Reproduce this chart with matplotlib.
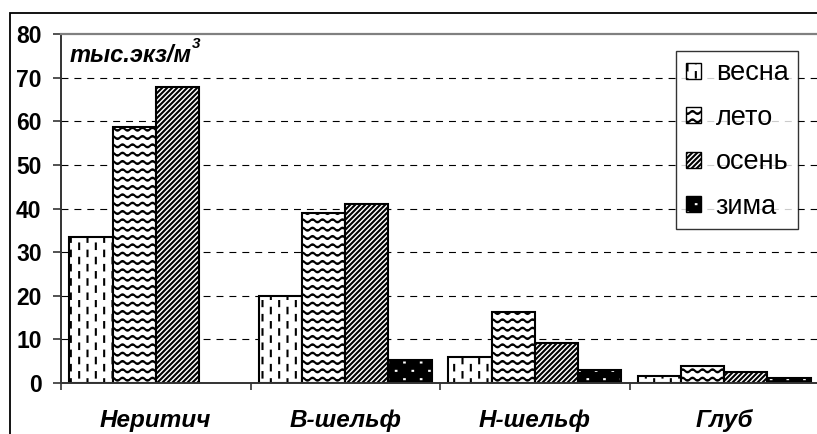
import numpy as np
import matplotlib
matplotlib.use("Agg")
import matplotlib.pyplot as plt
import matplotlib.hatch as mhatch
from matplotlib.path import Path
from matplotlib.patches import Patch, Rectangle

# ---------------- data ----------------
categories = ["Неритич", "В-шельф", "Н-шельф", "Глуб"]
seasons = ["весна", "лето", "осень", "зима"]
vesna = [33.4, 19.9, 6.0, 1.6]
leto = [58.6, 39.0, 16.2, 3.9]
osen = [67.9, 41.0, 9.1, 2.5]
zima = [0.0, 5.3, 3.0, 1.2]
yticks = [0, 10, 20, 30, 40, 50, 60, 70, 80]
unit_label = "тыс.экз/м"

# ---------------- custom hatches ----------------
mhatch._validate_hatch_pattern = lambda h: None


class _SegHatch(mhatch.HatchPatternBase):
    char = None

    def __init__(self, hatch, density):
        self.segs = self.build() if (hatch and self.char in hatch) else []
        self.num_vertices = sum(len(s) for s in self.segs)

    def build(self):
        return []

    def set_vertices_and_codes(self, vertices, codes):
        i = 0
        for s in self.segs:
            n = len(s)
            vertices[i:i + n] = s
            codes[i] = Path.MOVETO
            codes[i + 1:i + n] = Path.LINETO
            i += n


class DashHatch(_SegHatch):  # vertical staggered dashes (spring)
    char = "1"

    def build(self):
        segs = []
        ncol, nrow, dl = 12, 7, 0.055
        for i in range(ncol):
            x = (i + 0.5) / ncol
            off = 0.01 if i % 2 == 0 else 0.01 + 0.5 / nrow
            for k in range(nrow):
                y0 = k / nrow + off
                segs.append(np.array([[x, y0], [x, min(y0 + dl, 0.998)]]))
        return segs


class WaveHatch(_SegHatch):  # wavy lines (summer)
    char = "2"

    def build(self):
        segs = []
        nrow, nper, amp = 12, 10, 0.015
        t = np.linspace(0, 1, nper * 12 + 1)
        for j in range(nrow):
            y = (j + 0.5) / nrow + amp * np.sin(2 * np.pi * nper * t)
            segs.append(np.column_stack([t, y]))
        return segs


class DiagHatch(_SegHatch):  # dense diagonal (autumn)
    char = "3"

    def build(self):
        segs = []
        n = 20
        for i in range(-n, n + 1):
            x = i / n
            segs.append(np.array([[x, 0.0], [x + 1.0, 1.0]]))
        return segs


class DotHatch(_SegHatch):  # staggered dots (winter)
    char = "4"

    def build(self):
        segs = []
        ncol, nrow, d = 6, 12, 0.006
        for j in range(nrow):
            y = (j + 0.5) / nrow
            off = 0.0 if j % 2 == 0 else 0.5 / ncol
            for i in range(ncol):
                x = (i + 0.25) / ncol + off
                segs.append(np.array([[x, y], [x + d, y]]))
        return segs


mhatch._hatch_types.extend([DashHatch, WaveHatch, DiagHatch, DotHatch])

# ---------------- style ----------------
plt.rcParams["font.family"] = ["Liberation Sans", "DejaVu Sans"]
plt.rcParams["hatch.linewidth"] = 1.5
plt.rcParams["lines.scale_dashes"] = False

W, H = 817, 434
fig = plt.figure(figsize=(W / 100, H / 100), dpi=100)

# outer chart frame
fig.patches.append(Rectangle((10 / W, -0.05), 1.2, 1 - 13 / H + 0.05,
                             transform=fig.transFigure, fill=False,
                             edgecolor="black", linewidth=1.3, zorder=0))

ax = fig.add_axes([61 / W, 1 - 383 / H, 758 / W, (383 - 34) / H])
ax.set_facecolor("none")

x = np.arange(len(categories))
bw = 0.228
offs = (np.arange(4) - 1.5) * bw

ax.bar(x + offs[0], vesna, bw, facecolor="white", edgecolor="black",
       linewidth=1.5, hatch="1", zorder=3)
ax.bar(x + offs[1], leto, bw, facecolor="white", edgecolor="black",
       linewidth=1.5, hatch="2", zorder=3)
ax.bar(x + offs[2], osen, bw, facecolor="white", edgecolor="black",
       linewidth=1.5, hatch="3", zorder=3)
zv = np.array(zima)
mask = zv > 0
ax.bar(x[mask] + offs[3], zv[mask], bw, facecolor="black", edgecolor="white",
       linewidth=0, hatch="4", zorder=3)
ax.bar(x[mask] + offs[3], zv[mask], bw, fill=False, edgecolor="black",
       linewidth=1.5, zorder=4)

ax.set_xlim(-0.5, len(categories) - 0.5)
ax.set_ylim(0, 80)
ax.set_yticks(yticks)
ax.set_yticklabels([str(v) for v in yticks], fontsize=16.5, fontweight="bold")
ax.tick_params(axis="y", direction="out", length=6, width=1.2, pad=8,
               color="#333333")

ax.set_xticks(np.arange(len(categories) + 1) - 0.5)
ax.set_xticklabels([])
ax.tick_params(axis="x", which="major", direction="out", length=5,
               width=1.2, color="#333333")
ax.set_xticks(x, minor=True)
ax.set_xticklabels(categories, minor=True, fontsize=17.5, fontweight="bold",
                   fontstyle="italic")
ax.tick_params(axis="x", which="minor", length=0, pad=19)

for v in yticks[1:-1]:
    ax.axhline(v, color="black", linewidth=0.8, linestyle=(0, (5.0, 4.3)),
               zorder=1)

ax.spines["top"].set_color("#808080")
ax.spines["top"].set_linewidth(1.6)
ax.spines["right"].set_visible(False)
ax.spines["left"].set_color("#333333")
ax.spines["left"].set_linewidth(1.4)
ax.spines["bottom"].set_color("#333333")
ax.spines["bottom"].set_linewidth(1.4)
ax.spines["bottom"].set_zorder(5)

# unit label
fig.text(70 / W, 1 - 62 / H, unit_label, fontsize=17, fontweight="bold",
         fontstyle="italic", ha="left", va="baseline")
fig.text(192 / W, 1 - 48 / H, "3", fontsize=11, fontweight="bold",
         fontstyle="italic", ha="left", va="baseline")

# legend
handles = [
    Patch(facecolor="white", edgecolor="black", hatch="1", linewidth=1.0),
    Patch(facecolor="white", edgecolor="black", hatch="2", linewidth=1.0),
    Patch(facecolor="white", edgecolor="black", hatch="3", linewidth=1.0),
    (Patch(facecolor="black", edgecolor="white", hatch="4", linewidth=0),
     Patch(fill=False, edgecolor="black", linewidth=1.0)),
]
leg = fig.legend(handles, seasons, loc="upper right",
                 bbox_to_anchor=(798 / W, 1 - 51 / H),
                 bbox_transform=fig.transFigure, fontsize=19.5,
                 frameon=True, fancybox=False, shadow=False,
                 handlelength=0.55, handleheight=0.55, handletextpad=0.55,
                 borderpad=0.35, labelspacing=0.68, borderaxespad=0)
leg.get_frame().set_edgecolor("black")
leg.get_frame().set_linewidth(1.0)

fig.savefig("out.png", dpi=100)
